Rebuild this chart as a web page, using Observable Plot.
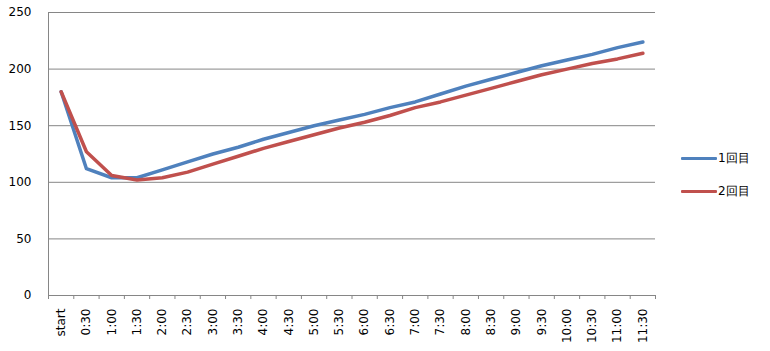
<!DOCTYPE html>
<html>
<head>
<meta charset="utf-8">
<script src="https://cdn.jsdelivr.net/npm/d3@7"></script>
<script src="https://cdn.jsdelivr.net/npm/@observablehq/plot@0.6"></script>
<style>
  html, body { margin: 0; padding: 0; background: #fff; }
  #wrap { position: relative; width: 770px; height: 351px; font-family: "DejaVu Sans", Verdana, sans-serif; }
  #wrap svg { display: block; }
  .legend { position: absolute; left: 681px; top: 0; font-size: 12px; color: #000; }
  .legend .item { position: absolute; left: 0; display: flex; align-items: center; white-space: nowrap; height: 16px; }
  .legend .sw { width: 36px; height: 3px; margin-right: 1px; border-radius: 1px; }
</style>
</head>
<body>
<div id="wrap"></div>
<script>
const categories = ["start","0:30","1:00","1:30","2:00","2:30","3:00","3:30","4:00","4:30","5:00","5:30","6:00","6:30","7:00","7:30","8:00","8:30","9:00","9:30","10:00","10:30","11:00","11:30"];
const series1Name = "1回目";
const series2Name = "2回目";
const series1 = [180,112,104,104,111,118,125,131,138,144,150,155,160,166,171,178,185,191,197,203,208,213,219,224];
const series2 = [180,127,106,102,104,109,116,123,130,136,142,148,153,159,166,171,177,183,189,195,200,205,209,214];
const yTicks = [0,50,100,150,200,250];
const colors = ["#4F81BD", "#C0504D"];

const idx = categories.map((_, i) => i);
const boundaries = d3.range(-0.5, categories.length, 1);
const rows = [
  ...series1.map((v, i) => ({i, v, s: series1Name})),
  ...series2.map((v, i) => ({i, v, s: series2Name}))
];

const chart = Plot.plot({
  width: 770,
  height: 351,
  marginLeft: 48,
  marginRight: 115,
  marginTop: 12,
  marginBottom: 56,
  style: {fontFamily: "'DejaVu Sans', Verdana, sans-serif", fontSize: "12px", color: "#000", background: "#fff"},
  x: {type: "linear", domain: [-0.5, categories.length - 0.5]},
  y: {domain: [0, 250]},
  color: {domain: [series1Name, series2Name], range: colors},
  marks: [
    Plot.ruleY(yTicks, {stroke: "#868686", strokeWidth: 1}),
    Plot.ruleX([-0.5], {y1: 0, y2: 250, stroke: "#868686", strokeWidth: 1}),
    Plot.axisY(yTicks, {tickSize: 0, tickPadding: 17, tickFormat: d => String(d), fill: "#000", label: null}),
    Plot.axisX(boundaries, {tickSize: 4, stroke: "#868686", tickFormat: () => "", label: null}),
    Plot.axisX(idx, {tickSize: 0, tickPadding: 13, tickRotate: -90, tickFormat: i => categories[i], fill: "#000", label: null}),
    Plot.line(rows, {x: "i", y: "v", z: "s", stroke: "s", strokeWidth: 3.5, strokeLinejoin: "round", strokeLinecap: "round", curve: "linear"})
  ]
});
const wrap = document.getElementById("wrap");
wrap.appendChild(chart);

const legend = document.createElement("div");
legend.className = "legend";
[[series1Name, colors[0], 150], [series2Name, colors[1], 183]].forEach(([name, c, top]) => {
  const item = document.createElement("div");
  item.className = "item";
  item.style.top = top + "px";
  const sw = document.createElement("span");
  sw.className = "sw";
  sw.style.background = c;
  const t = document.createElement("span");
  t.textContent = name;
  item.appendChild(sw);
  item.appendChild(t);
  legend.appendChild(item);
});
wrap.appendChild(legend);
</script>
</body>
</html>
